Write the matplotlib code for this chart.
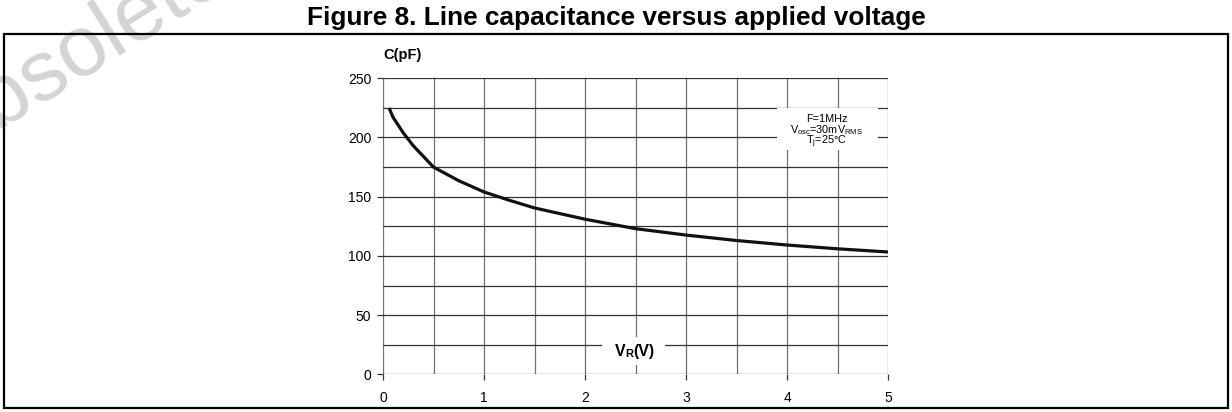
import matplotlib.pyplot as plt
from matplotlib.patches import Rectangle
import numpy as np

plt.rcParams['font.family'] = ['Liberation Sans', 'DejaVu Sans']
plt.rcParams['mathtext.fontset'] = 'custom'
plt.rcParams['mathtext.rm'] = 'Liberation Sans'
plt.rcParams['mathtext.bf'] = 'Liberation Sans:bold'

# Datos
voltaje = [0.06, 0.1, 0.2, 0.3, 0.5, 0.75, 1.0, 1.25, 1.5, 2.0, 2.5, 3.0, 3.5, 4.0, 4.5, 5.0]
capacidad = [225, 217, 204, 193, 175, 163.5, 154, 147, 140.5, 131, 123, 117.6, 113, 109.2, 106, 103.3]

x_ticks = [0, 1, 2, 3, 4, 5]
y_ticks = [0, 50, 100, 150, 200, 250]

fig = plt.figure(figsize=(12.32, 4.12), dpi=100)

# Marca de agua
fig.text(-60 / 1232, 1 - 167.5 / 412, "Obsolete Product(s)", fontsize=62,
         color="#d4d4d4", rotation=32, ha="left", va="baseline",
         rotation_mode="anchor", zorder=0)

# Marco exterior
fig.patches.append(Rectangle((4 / 1232, 4 / 412), 1224 / 1232, 374 / 412,
                             transform=fig.transFigure, fill=False,
                             edgecolor="black", linewidth=1.6, zorder=1))

fig.text(0.5, 1 - 25 / 412, "Figure 8. Line capacitance versus applied voltage",
         ha="center", va="baseline", fontsize=18.9, fontweight="bold")

ax = fig.add_axes([383 / 1232, 37.7 / 412, 505 / 1232, 296 / 412])
ax.patch.set_alpha(0)

# Rejilla
for v in np.arange(0, 5.01, 0.5):
    ax.axvline(v, color="#707070", linewidth=0.9, zorder=1)
for c in np.arange(0, 250.1, 25):
    ax.axhline(c, color="#333333", linewidth=0.9, zorder=1)

ax.plot(voltaje, capacidad, color="#111111", linewidth=2.3, zorder=3,
        solid_capstyle="butt")

ax.set_xlim(0, 5)
ax.set_ylim(0, 250)
ax.set_xticks(x_ticks)
ax.set_yticks(y_ticks)
ax.tick_params(length=4.5, width=0.9, labelsize=10, color="#333333")
ax.tick_params(axis="x", pad=7.5)
ax.tick_params(axis="y", pad=4)
for s in ax.spines.values():
    s.set_visible(False)

# Recuadro de condiciones
ax.add_patch(Rectangle((3.90, 189.5), 1.0, 35, facecolor="white",
                       edgecolor="none", zorder=2))
ax.text(4.39, 215.4, "F=1MHz", ha="center", va="center", fontsize=7.8, zorder=4)
ax.text(4.39, 206.4, r"V$_\mathregular{osc}$=30mV$_\mathregular{RMS}$",
        ha="center", va="center", fontsize=7.8, zorder=4)
ax.text(4.39, 196.5, r"T$_\mathregular{j}$=25°C", ha="center", va="center",
        fontsize=7.8, zorder=4)

ax.text(0.195, 269.5, "C(pF)", ha="center", va="center", fontsize=10.5,
        fontweight="bold", clip_on=False)

# Etiqueta del eje x sobre la rejilla
ax.add_patch(Rectangle((2.165, 7.8), 0.625, 23.9, facecolor="white",
                       edgecolor="none", zorder=2))
tv = ax.text(2.297, 15.7, "V", ha="left", va="baseline", fontsize=11.5,
             fontweight="bold", zorder=4)
tr = ax.annotate("R", xy=(1, 0), xycoords=tv, ha="left", va="bottom",
                 fontsize=8, fontweight="bold", zorder=4)
ax.annotate("(V)", xy=(1, 0), xycoords=tr, ha="left", va="bottom",
            fontsize=11.5, fontweight="bold", zorder=4)

fig.savefig("out.png", dpi=100)
